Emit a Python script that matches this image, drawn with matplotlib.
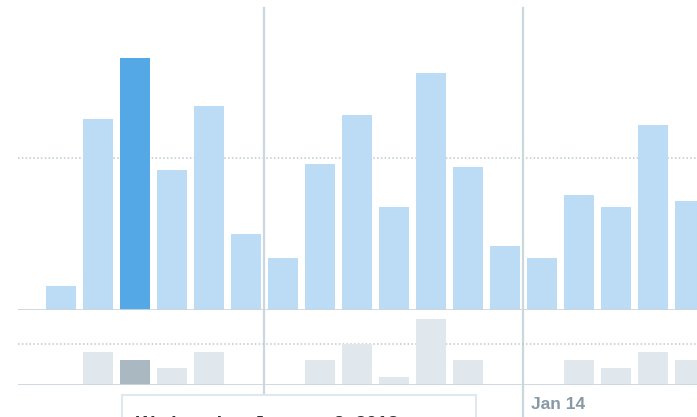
import matplotlib
matplotlib.use("Agg")
import matplotlib.pyplot as plt
from matplotlib.patches import Rectangle

# daily values, Jan 1 .. Jan 18 (2013)
days = list(range(18))
main_vals = [8, 63, 83, 46, 67, 25, 17, 48, 64, 34, 78, 47, 21, 17, 38, 34, 61, 36]
lower_vals = [0, 4, 3, 2, 4, 0, 0, 3, 5, 1, 8, 3, 0, 0, 3, 2, 4, 3]
highlight = 2
week_breaks = [5.5, 12.5]
tick_label = "Jan 14"
tooltip_text = "Wednesday, January 2, 2013"

W, H = 697, 417
fig = plt.figure(figsize=(W / 100, H / 100), dpi=100)
fig.patch.set_facecolor("white")

plt.rcParams["font.family"] = ["Liberation Sans", "DejaVu Sans"]

blue_light = "#bcdcf5"
blue_dark = "#55a8e6"
grey_light = "#e1e8ed"
grey_dark = "#aab8c2"
line_col = "#ccd6dd"
dot_col = "#bfc9d0"

x_lo, x_hi = -1.162, 17.19
bw = 0.81

# main panel: bottom at y=310 px
ax = fig.add_axes([18 / W, (H - 310) / H, (W - 18) / W, 310 / H])
ax.bar(days, main_vals, width=bw,
       color=[blue_dark if i == highlight else blue_light for i in days],
       zorder=2)
ax.axhline(50, color=dot_col, lw=1.1, ls=(0, (1, 1.5)), zorder=1)
ax.axhline(0, color=line_col, lw=2, zorder=3)
ax.set_xlim(x_lo, x_hi)
ax.set_ylim(0, 102)
ax.axis("off")

# lower panel: baseline at y=385 px
ax2 = fig.add_axes([18 / W, (H - 385) / H, (W - 18) / W, 75 / H])
ax2.bar(days, lower_vals, width=bw,
        color=[grey_dark if i == highlight else grey_light for i in days],
        zorder=2)
ax2.axhline(5, color=dot_col, lw=1.1, ls=(0, (1, 1.5)), zorder=1)
ax2.axhline(0, color=line_col, lw=2, zorder=3)
ax2.set_xlim(x_lo, x_hi)
ax2.set_ylim(0, 9.04)
ax2.axis("off")

# week separators
ax.axvline(week_breaks[0], ymin=-85 / 310, ymax=302 / 310, color=line_col,
           lw=1.6, clip_on=False, zorder=4)
ax.axvline(week_breaks[1], ymin=-110 / 310, ymax=302 / 310, color=line_col,
           lw=1.6, clip_on=False, zorder=4)

ax2.text(week_breaks[1] + 0.2, -0.16, tick_label,
         transform=ax2.get_xaxis_transform(),
         ha="left", va="top", fontsize=12.5, fontweight="bold", color="#8899a6")

# tooltip box, cut by the bottom edge
tip = Rectangle((122 / W, -0.1), (476 - 122) / W, 0.1 + (H - 395) / H,
                transform=fig.transFigure, facecolor="white",
                edgecolor=grey_light, lw=1.5, zorder=10)
fig.patches.append(tip)
fig.text(136 / W, 1 - 416.4 / H, tooltip_text, ha="left", va="top",
         fontsize=14, fontweight="bold", color="#292f33", zorder=11)

fig.savefig("out.png", dpi=100, facecolor="white")
